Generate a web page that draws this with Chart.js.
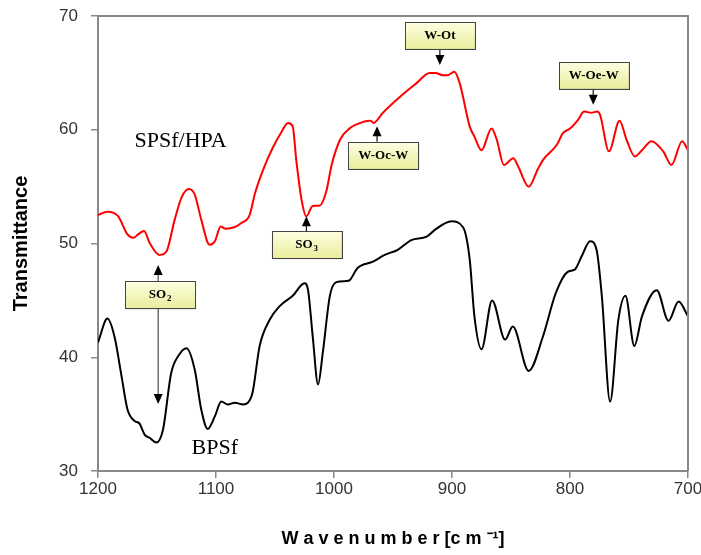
<!DOCTYPE html>
<html>
<head>
<meta charset="utf-8">
<script src="https://cdn.jsdelivr.net/npm/chart.js@4.4.0/dist/chart.umd.min.js"></script>
<style>
  html, body { margin: 0; padding: 0; background: #fff; }
  canvas { display: block; }
</style>
</head>
<body>
<canvas id="ftir" width="701" height="555"></canvas>
<script>
// spectra (wavenumber in cm-1, transmittance)
const hpaWavenumber = [1200, 1192, 1183, 1175, 1170, 1166, 1161, 1156, 1148, 1142, 1135, 1129, 1123, 1118, 1112.5,
  1105.5, 1101, 1096, 1092, 1084, 1078.5, 1071.5, 1067, 1060, 1052, 1044.5, 1039, 1035, 1032, 1027.5, 1023.5,
  1018, 1012, 1006.5, 1002, 995, 987, 975, 969, 966.5, 958.5, 944, 930, 919, 914, 908, 904, 898, 893.5, 885,
  881, 875, 866.5, 862, 856, 848, 844, 835, 827, 822.5, 811, 806, 800, 793, 788, 782, 777, 774.5, 767, 758,
  752, 745, 739, 731, 721, 714, 705, 700];
const hpaTransmittance = [52.5, 52.8, 52.4, 50.8, 50.5, 50.8, 51.1, 50.0, 49.0, 49.3, 52.1, 54.1, 54.8, 54.3, 52.1,
  49.9, 50.2, 51.5, 51.3, 51.45, 51.8, 52.5, 54.4, 56.5, 58.4, 59.8, 60.6, 60.3, 57.35, 53.85, 52.4,
  53.3, 53.35, 54.6, 56.9, 59.1, 60.1, 60.7, 60.8, 60.6, 61.5, 62.9, 64.1, 65.0, 65.0, 64.8, 64.8, 65.1, 64.1, 60.3,
  59.4, 58.2, 60.1, 59.1, 56.9, 57.5, 56.8, 55.0, 56.6, 57.4, 58.7, 59.7, 60.1, 60.9, 61.6, 61.5, 61.6, 61.3, 58.1, 60.8,
  59.1, 57.65, 58.2, 59.0, 58.1, 56.9, 59.0, 58.2];

const bpsfWavenumber = [1200, 1192, 1186, 1180, 1175, 1169, 1165, 1160.5, 1156, 1150.5, 1145, 1138, 1132, 1125,
  1118, 1112.5, 1107, 1101, 1095.5, 1090, 1084, 1077, 1073, 1069, 1063, 1054.5, 1046, 1035, 1025, 1022, 1018,
  1013.5, 1009.5, 1003.5, 998, 989.5, 986.5, 980, 967, 957, 946, 934.5, 921.5, 914.5, 900.5, 890.5, 885, 881,
  875, 866, 855, 848.5, 835, 823, 812, 802, 796, 790, 783, 777.5, 773, 766, 759, 753, 745.5, 739, 726.5,
  716.5, 708, 700];
const bpsfTransmittance = [41.3, 43.4, 41.8, 38.3, 35.4, 34.4, 34.2, 33.2, 32.9, 32.5, 33.6, 38.6, 40.1, 40.8,
  38.9, 35.4, 33.7, 34.8, 36.1, 35.85, 36.0, 35.85, 36.0, 36.9, 41.0, 43.3, 44.5, 45.4, 46.5, 45.9, 41.8,
  37.6, 40.4, 45.4, 46.6, 46.7, 46.8, 47.85, 48.4, 49.0, 49.45, 50.3, 50.6, 51.2, 51.95, 51.4, 48.6, 43.6,
  40.7, 45.0, 41.55, 42.7, 38.8, 41.8, 45.65, 47.5, 47.7, 48.9, 50.2, 49.45, 45.35, 36.1, 43.3, 45.4, 41.0, 43.6, 45.9,
  43.2, 44.9, 43.6];

// curve names, placed in data units
const seriesNames = ['SPSf/HPA', 'BPSf'];
const seriesNameX = [1130, 1101];
const seriesNameY = [59.0, 32.0];

// band assignments: box centre, arrow x and arrow tip(s), in data units
const bandText = ['SO', 'SO', 'W-Oc-W', 'W-Ot', 'W-Oe-W'];
const bandSub = ['2', '3', '', '', ''];
const bandBoxX = [1147.4, 1023.2, 958.3, 910.3, 779.9];
const bandBoxY = [45.5, 49.9, 57.75, 68.3, 64.8];
const bandArrowX = [1149, 1023.4, 963.5, 910.3, 780.3];
const bandArrowTip = [[48.1, 35.9], [52.4], [60.3], [65.7], [62.2]];

const toPoints = (xs, ys) => xs.map((v, i) => ({x: v, y: ys[i]}));

function arrowHead(ctx, x, y, dir) {
  // dir = -1 points up, 1 points down
  ctx.beginPath();
  ctx.moveTo(x, y);
  ctx.lineTo(x - 4.5, y - dir * 10);
  ctx.lineTo(x + 4.5, y - dir * 10);
  ctx.closePath();
  ctx.fill();
}

const decorations = {
  id: 'decorations',
  afterDatasetsDraw(chart) {
    const {ctx, chartArea: a, scales: {x, y}} = chart;
    ctx.save();

    // frame on top and right
    ctx.strokeStyle = '#888';
    ctx.lineWidth = 2;
    ctx.beginPath();
    ctx.moveTo(a.left, a.top);
    ctx.lineTo(a.right, a.top);
    ctx.lineTo(a.right, a.bottom);
    ctx.stroke();

    // series names
    ctx.fillStyle = '#000';
    ctx.font = '22px "Liberation Serif", "Times New Roman", serif';
    ctx.textAlign = 'center';
    ctx.textBaseline = 'middle';
    seriesNames.forEach((t, i) => {
      ctx.fillText(t, x.getPixelForValue(seriesNameX[i]), y.getPixelForValue(seriesNameY[i]));
    });

    // boxes + arrows
    const bw = 70, bh = 27;
    bandText.forEach((t, i) => {
      const cx = x.getPixelForValue(bandBoxX[i]);
      const cy = y.getPixelForValue(bandBoxY[i]);
      const ax = x.getPixelForValue(bandArrowX[i]);
      const top = cy - bh / 2, bottom = cy + bh / 2;

      bandArrowTip[i].forEach(tv => {
        const ty = y.getPixelForValue(tv);
        const dir = ty < top ? -1 : 1;
        const from = dir < 0 ? top : bottom;
        ctx.strokeStyle = i === 0 ? '#555' : '#222';
        ctx.lineWidth = 1.3;
        ctx.beginPath();
        ctx.moveTo(ax, from);
        ctx.lineTo(ax, ty - dir * 9);
        ctx.stroke();
        ctx.fillStyle = '#000';
        arrowHead(ctx, ax, ty, dir);
      });

      const g = ctx.createLinearGradient(0, top, 0, bottom);
      g.addColorStop(0, '#ffffe2');
      g.addColorStop(1, '#e9ed9c');
      ctx.save();
      ctx.shadowColor = 'rgba(0,0,0,0.35)';
      ctx.shadowOffsetX = 1;
      ctx.shadowOffsetY = 1;
      ctx.fillStyle = g;
      ctx.fillRect(cx - bw / 2, top, bw, bh);
      ctx.restore();
      ctx.strokeStyle = '#444';
      ctx.lineWidth = 1;
      ctx.strokeRect(Math.round(cx - bw / 2) + 0.5, Math.round(top) + 0.5, bw, bh);

      ctx.fillStyle = '#000';
      ctx.textBaseline = 'middle';
      ctx.textAlign = 'left';
      const mainFont = 'bold 13px "Liberation Serif", "Times New Roman", serif';
      const subFont = 'bold 9px "Liberation Serif", "Times New Roman", serif';
      ctx.font = mainFont;
      const w1 = ctx.measureText(t).width;
      ctx.font = subFont;
      const w2 = bandSub[i] ? ctx.measureText(bandSub[i]).width + 1 : 0;
      const sx = cx - (w1 + w2) / 2;
      ctx.font = mainFont;
      ctx.fillText(t, sx, cy);
      if (bandSub[i]) {
        ctx.font = subFont;
        ctx.fillText(bandSub[i], sx + w1 + 1, cy + 4);
      }
    });
    ctx.restore();
  }
};

const axisGrid = {display: true, drawOnChartArea: false, drawTicks: true, tickLength: 7, color: '#888', lineWidth: 1.5};
const axisBorder = {display: true, color: '#888', width: 2};
const tickFont = {family: '"Liberation Sans", Arial, sans-serif', size: 17};
const titleFont = {family: '"Liberation Sans", Arial, sans-serif', size: 18, weight: 'bold'};

new Chart(document.getElementById('ftir'), {
  type: 'line',
  data: {
    datasets: [{
      label: 'SPSf/HPA',
      data: toPoints(hpaWavenumber, hpaTransmittance),
      borderColor: '#ff0000',
      borderWidth: 2,
      pointRadius: 0,
      cubicInterpolationMode: 'monotone',
      fill: false
    }, {
      label: 'BPSf',
      data: toPoints(bpsfWavenumber, bpsfTransmittance),
      borderColor: '#000000',
      borderWidth: 2,
      pointRadius: 0,
      cubicInterpolationMode: 'monotone',
      fill: false
    }]
  },
  options: {
    responsive: false,
    animation: false,
    devicePixelRatio: 1,
    layout: {padding: {top: 16, right: 13, left: 0, bottom: 0}},
    plugins: {legend: {display: false}, tooltip: {enabled: false}},
    scales: {
      x: {
        type: 'linear',
        reverse: true,
        min: 700,
        max: 1200,
        grid: axisGrid,
        border: axisBorder,
        ticks: {stepSize: 100, font: tickFont, color: '#333', padding: 1, maxRotation: 0,
          callback: v => String(v)},
        title: {display: true, text: 'W a v e n u m b e r [c m ⁻¹]', font: titleFont, color: '#000',
          padding: {top: 0, bottom: 5}},
        afterFit: s => { s.height = 84; s.paddingLeft = 0; s.paddingRight = 0; }
      },
      y: {
        min: 30,
        max: 70,
        grid: axisGrid,
        border: axisBorder,
        ticks: {stepSize: 10, font: tickFont, color: '#333', padding: 13},
        title: {display: true, text: 'Transmittance', font: {...titleFont, size: 20}, color: '#000',
          padding: {top: 9, bottom: 0}},
        afterFit: s => { s.width = 98; s.paddingTop = 0; s.paddingBottom = 0; }
      }
    }
  },
  plugins: [decorations]
});
</script>
</body>
</html>
